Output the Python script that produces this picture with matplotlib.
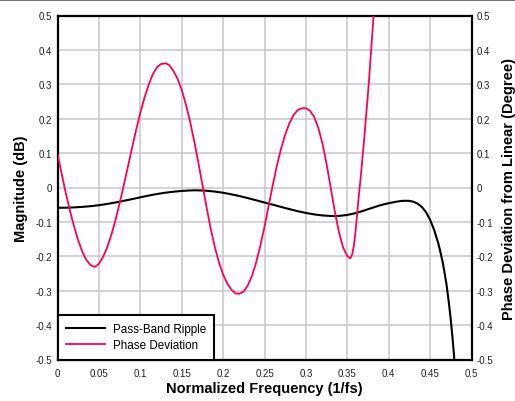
import matplotlib
matplotlib.use("Agg")
import matplotlib.pyplot as plt
from matplotlib.lines import Line2D

plt.rcParams['font.family'] = ['Liberation Sans', 'DejaVu Sans']
plt.rcParams['axes.unicode_minus'] = False

# ---- data ----
ripple_x = [0.00, 0.01, 0.02, 0.03, 0.04, 0.05, 0.06, 0.07, 0.08, 0.09,
            0.10, 0.11, 0.12, 0.13, 0.14, 0.15, 0.16, 0.165, 0.17, 0.18, 0.19,
            0.20, 0.21, 0.22, 0.23, 0.24, 0.25, 0.26, 0.27, 0.28, 0.29,
            0.30, 0.31, 0.32, 0.33, 0.335, 0.34, 0.35, 0.36, 0.37, 0.38, 0.39,
            0.40, 0.41, 0.415, 0.42, 0.425, 0.43, 0.435, 0.44, 0.445,
            0.45, 0.455, 0.46, 0.4625, 0.465, 0.4675, 0.47, 0.4725, 0.475, 0.4775, 0.48]
ripple_y = [-0.0590, -0.0587, -0.0578, -0.0563, -0.0543, -0.0515, -0.0478, -0.0435, -0.0388, -0.0338,
            -0.0285, -0.0235, -0.0190, -0.0152, -0.0122, -0.0100, -0.0086, -0.0082, -0.0083, -0.0094, -0.0118,
            -0.0153, -0.0198, -0.0250, -0.0310, -0.0372, -0.0436, -0.0500, -0.0565, -0.0628, -0.0688,
            -0.0740, -0.0782, -0.0812, -0.0828, -0.0830, -0.0826, -0.0798, -0.0745, -0.0672, -0.0592, -0.0515,
            -0.0455, -0.0410, -0.0392, -0.0385, -0.0390, -0.0415, -0.0470, -0.0565, -0.0715,
            -0.094, -0.124, -0.163, -0.188, -0.215, -0.248, -0.285, -0.332, -0.385, -0.449, -0.520]

phase_x = [0.000, 0.005, 0.010, 0.015, 0.020, 0.025, 0.030, 0.035, 0.040, 0.045,
           0.050, 0.055, 0.060, 0.065, 0.070, 0.075, 0.080, 0.085, 0.090, 0.095,
           0.100, 0.105, 0.110, 0.115, 0.120, 0.125, 0.1304, 0.135, 0.140, 0.145,
           0.150, 0.155, 0.160, 0.165, 0.170, 0.175, 0.180, 0.185, 0.190, 0.195,
           0.200, 0.205, 0.210, 0.215, 0.2195, 0.225, 0.230, 0.235, 0.240, 0.245,
           0.250, 0.255, 0.260, 0.265, 0.270, 0.275, 0.280, 0.285, 0.290, 0.295,
           0.2977, 0.300, 0.305, 0.310, 0.315, 0.320, 0.325, 0.330, 0.335, 0.340,
           0.345, 0.350, 0.3535, 0.356, 0.358, 0.360, 0.362, 0.364, 0.366, 0.368,
           0.370, 0.372, 0.374, 0.376, 0.378, 0.380, 0.382, 0.384]
phase_y = [0.098, 0.040, -0.016, -0.067, -0.113, -0.154, -0.187, -0.211, -0.226, -0.231,
           -0.222, -0.202, -0.174, -0.138, -0.095, -0.046, 0.006, 0.060, 0.115, 0.168,
           0.217, 0.261, 0.298, 0.329, 0.349, 0.359, 0.361, 0.356, 0.339, 0.316,
           0.284, 0.242, 0.193, 0.136, 0.074, 0.008, -0.057, -0.119, -0.173, -0.218,
           -0.253, -0.279, -0.297, -0.308, -0.309, -0.302, -0.284, -0.256, -0.217, -0.169,
           -0.114, -0.053, 0.007, 0.064, 0.113, 0.154, 0.186, 0.210, 0.225, 0.230,
           0.231, 0.230, 0.223, 0.205, 0.173, 0.128, 0.068, -0.001, -0.071, -0.131,
           -0.175, -0.199, -0.206, -0.194, -0.168, -0.126, -0.073, -0.022, 0.025, 0.078,
           0.130, 0.188, 0.245, 0.305, 0.373, 0.440, 0.510, 0.580]

x_ticks = [0, 0.05, 0.1, 0.15, 0.2, 0.25, 0.3, 0.35, 0.4, 0.45, 0.5]
x_tick_labels = ["0", "0.05", "0.1", "0.15", "0.2", "0.25", "0.3", "0.35", "0.4", "0.45", "0.5"]
y_ticks = [-0.5, -0.4, -0.3, -0.2, -0.1, 0, 0.1, 0.2, 0.3, 0.4, 0.5]
y_tick_labels = ["-0.5", "-0.4", "-0.3", "-0.2", "-0.1", "0", "0.1", "0.2", "0.3", "0.4", "0.5"]

series_names = ["Pass-Band Ripple", "Phase Deviation"]
x_label = "Normalized Frequency (1/fs)"
y_label_left = "Magnitude (dB)"
y_label_right = "Phase Deviation from Linear (Degree)"

# ---- figure ----
fig = plt.figure(figsize=(5.15, 4.02), dpi=100)
ax = fig.add_axes([57.5 / 515, (402 - 360.5) / 402, 414 / 515, 344 / 402])

ax.set_xlim(0, 0.5)
ax.set_ylim(-0.5, 0.5)
ax.set_xticks(x_ticks)
ax.set_xticklabels(x_tick_labels)
ax.set_yticks(y_ticks)
ax.set_yticklabels(y_tick_labels)
ax.tick_params(axis='both', length=0, labelsize=7, colors='#222222')
ax.tick_params(axis='x', pad=6)
ax.tick_params(axis='y', pad=4, labelright=True)

ax.grid(True, color='#c8c8c8', linewidth=1.1)
ax.set_axisbelow(True)
for s in ax.spines.values():
    s.set_linewidth(1.6)
    s.set_color('black')

ax.plot(ripple_x, ripple_y, color='black', linewidth=1.5, label=series_names[0],
        zorder=3, solid_joinstyle='round')
ax.plot(phase_x, phase_y, color='#ff0055', linewidth=1.3, label=series_names[1],
        zorder=4, solid_joinstyle='round')

ax.set_xlabel(x_label, fontsize=10.5, fontweight='bold', labelpad=2)
ax.set_ylabel(y_label_left, fontsize=10.5, fontweight='bold')
ax.yaxis.set_label_coords(-0.071, 0.5)
ax.text(1.09, 0.5, y_label_right, transform=ax.transAxes, rotation=90,
        ha='center', va='center', fontsize=10.5, fontweight='bold')

leg = ax.legend(loc='lower left', borderaxespad=0, fontsize=8.4, fancybox=False,
                handlelength=3.35, handletextpad=0.67, labelspacing=0.33,
                borderpad=0.7, framealpha=1)
leg.get_frame().set_edgecolor('black')
leg.get_frame().set_linewidth(1.5)
leg.set_zorder(10)

fig.add_artist(Line2D([0, 1], [0.997, 0.997], transform=fig.transFigure,
                      color='#555555', linewidth=1.2))

fig.savefig("out.png", dpi=100)
